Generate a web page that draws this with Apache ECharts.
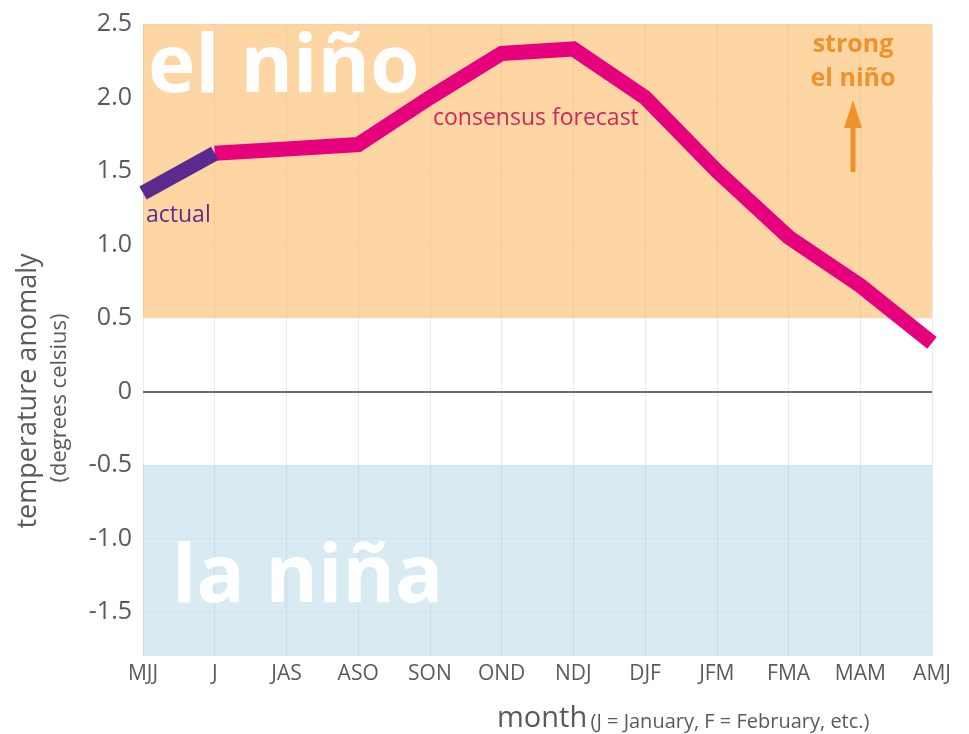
<!DOCTYPE html>
<html>
<head>
<meta charset="utf-8">
<script src="https://cdn.jsdelivr.net/npm/echarts@6/dist/echarts.min.js"></script>
<style>
  html, body { margin: 0; padding: 0; background: #fff; }
  #chart { width: 969px; height: 734px; }
</style>
</head>
<body>
<div id="chart"></div>
<script>
// three-month seasons
const months = ["MJJ", "J", "JAS", "ASO", "SON", "OND", "NDJ", "DJF", "JFM", "FMA", "MAM", "AMJ"];
// observed anomaly
const actual = [1.35, 1.62, null, null, null, null, null, null, null, null, null, null];
// forecast anomaly
const forecast = [null, 1.62, 1.65, 1.68, 2.0, 2.3, 2.33, 2.0, 1.5, 1.05, 0.72, 0.33];
const yTicks = [-1.5, -1.0, -0.5, 0, 0.5, 1.0, 1.5, 2.0, 2.5];
const yMin = -1.8;
const yMax = 2.5;
const elNinoBand = [0.5, 2.5];
const laNinaBand = [-1.8, -0.5];

const font = "'Open Sans', 'Noto Sans', sans-serif";
const grey = "#5a5a5a";

const chart = echarts.init(document.getElementById("chart"), null, { renderer: "canvas" });

chart.setOption({
    animation: false,
    textStyle: { fontFamily: font },
    grid: { left: 143, right: 37, top: 24, bottom: 78 },
    xAxis: {
        type: "category",
        data: months,
        boundaryGap: false,
        axisLine: { show: false },
        axisTick: { show: false },
        axisLabel: { color: grey, fontSize: 21, margin: 8, fontFamily: font },
        splitLine: { show: true, lineStyle: { color: "rgba(0,0,0,0.08)", width: 1 } },
    },
    yAxis: {
        type: "value",
        min: yMin,
        max: yMax,
        axisLine: { show: false },
        axisTick: { show: false, customValues: yTicks },
        axisLabel: {
            customValues: yTicks,
            color: grey,
            fontSize: 25,
            margin: 11,
            fontFamily: font,
            formatter: (v) => (v === 0 ? "0" : v.toFixed(1)),
        },
        splitLine: { show: true, lineStyle: { color: "rgba(0,0,0,0.04)", width: 1 } },
    },
    series: [
        {
            type: "line",
            name: "forecast",
            data: forecast,
            showSymbol: false,
            symbol: "none",
            lineStyle: { color: "#e6007e", width: 15, cap: "butt", join: "miter" },
            z: 5,
            markArea: {
                silent: true,
                data: [
                    [{ yAxis: elNinoBand[0], itemStyle: { color: "rgba(251,164,51,0.45)" } }, { yAxis: elNinoBand[1] }],
                    [{ yAxis: laNinaBand[0], itemStyle: { color: "rgba(99,175,207,0.25)" } }, { yAxis: laNinaBand[1] }],
                ],
            },
            markLine: {
                silent: true,
                symbol: "none",
                label: { show: false },
                lineStyle: { color: "#6b6b6b", width: 2, type: "solid" },
                data: [{ yAxis: 0 }],
            },
        },
        {
            type: "line",
            name: "actual",
            data: actual,
            showSymbol: false,
            symbol: "none",
            lineStyle: { color: "#5b2a8f", width: 15, cap: "butt", join: "miter" },
            z: 6,
        },
    ],
    graphic: [
        { type: "text", left: 148, top: 29, z: 4, style: { text: "el niño", fill: "#fff", font: "bold 80px " + font } },
        { type: "text", left: 172, top: 539, z: 4, style: { text: "la niña", fill: "#fff", font: "bold 80px " + font } },
        {
            type: "text", x: 853, y: 28, z: 10,
            style: { text: "strong\nel niño", fill: "#f0922b", font: "bold 25px " + font, align: "center", lineHeight: 34 },
        },
        { type: "line", z: 10, shape: { x1: 853, y1: 172, x2: 853, y2: 120 }, style: { stroke: "#f0922b", lineWidth: 5 } },
        { type: "polygon", z: 10, shape: { points: [[844, 128], [853, 100], [862, 128]] }, style: { fill: "#f0922b" } },
        { type: "text", x: 433, y: 107, z: 10, style: { text: "consensus forecast", fill: "#cc2860", font: "23px " + font } },
        { type: "text", x: 146, y: 204, z: 10, style: { text: "actual", fill: "#5d2d8e", font: "23px " + font } },
        {
            type: "text", x: 28, y: 391, rotation: Math.PI / 2, z: 10,
            style: { text: "temperature anomaly", fill: grey, font: "27px " + font, align: "center", verticalAlign: "middle" },
        },
        {
            type: "text", x: 60, y: 398, rotation: Math.PI / 2, z: 10,
            style: { text: "(degrees celsius)", fill: grey, font: "22px " + font, align: "center", verticalAlign: "middle" },
        },
        {
            type: "text", x: 497, y: 704, z: 10,
            style: {
                text: "{a|month} {b|(J = January, F = February, etc.)}",
                rich: {
                    a: { fontSize: 29, fill: grey, fontFamily: font },
                    b: { fontSize: 20, fill: grey, fontFamily: font, padding: [7, 0, 0, 0] },
                },
            },
        },
    ],
});
</script>
</body>
</html>
